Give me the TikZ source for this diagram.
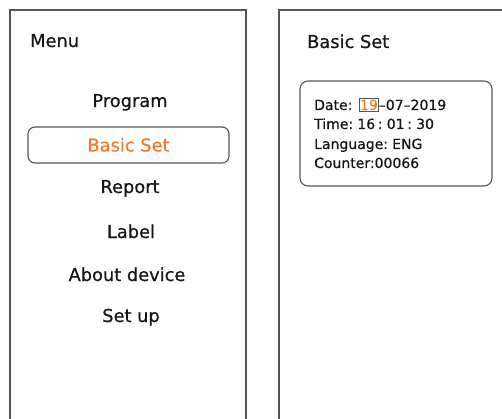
\documentclass[tikz,border=0pt]{standalone}
\usepackage{fontspec}
\setmainfont[FakeBold=0.6]{DejaVu Sans}
\definecolor{linegray}{HTML}{555555}
\definecolor{txt}{HTML}{151515}
\definecolor{hl}{HTML}{F07A2A}
\newcommand{\menufont}{\fontsize{17.8}{20}\selectfont}
\newcommand{\infofont}{\fontsize{14}{17}\selectfont\spaceskip=2.7pt plus 0pt minus 0pt\relax}
\begin{document}
\begin{tikzpicture}[x=1pt,y=-1pt,
  panel/.style={draw=linegray,line width=1.6pt},
  roundbox/.style={draw=linegray,line width=1.1pt,rounded corners=7pt},
  title/.style={font=\menufont,text=txt,anchor=base west,inner sep=0pt},
  menuitem/.style={font=\menufont,text=txt,anchor=base,inner sep=0pt},
  infoline/.style={font=\infofont,text=txt,anchor=base west,inner sep=0pt},
  hlbox/.style={draw=linegray,line width=0.9pt,font=\infofont,text=hl,inner xsep=0.3pt,inner ysep=1.5pt}]
\useasboundingbox (0,0) rectangle (502,419);
\clip (0,0) rectangle (502,419);
% panels
\draw[panel] (10,440) -- (10,10) -- (246,10) -- (246,440);
\draw[panel] (279,440) -- (279,10) -- (520,10);
% left menu
\node[title] (menu) at (30,47) {Menu};
\node[menuitem] (program) at (130,107) {Program};
\node[roundbox,font=\menufont,text=hl,minimum width=201pt,minimum height=36pt,text height=13pt,text depth=0pt,inner sep=0pt] (basic) at (128.5,145) {Basic Set};
\node[menuitem] (report) at (130,193) {Report};
\node[menuitem] (label) at (131,238) {Label};
\node[menuitem] (about) at (127,281) {About device};
\node[menuitem] (setup) at (131,322) {Set up};
% right panel
\node[title] (bstitle) at (307,48) {Basic Set};
\node[roundbox,rounded corners=8pt,minimum width=192pt,minimum height=105pt,inner sep=0pt] (infobox) at (396,133.5) {};
\node[infoline] (date) at (314,110) {Date:};
\node[hlbox,anchor=base west] (day) at (359.3,110) {19};
\node[infoline] (daterest) at (day.base east) {–07–2019};
\node[infoline] (time) at (314,129) {Time: 16 : 01 : 30};
\node[infoline] (lang) at (314,149) {Language: ENG};
\node[infoline] (counter) at (314,168) {Counter:00066};
\end{tikzpicture}
\end{document}
